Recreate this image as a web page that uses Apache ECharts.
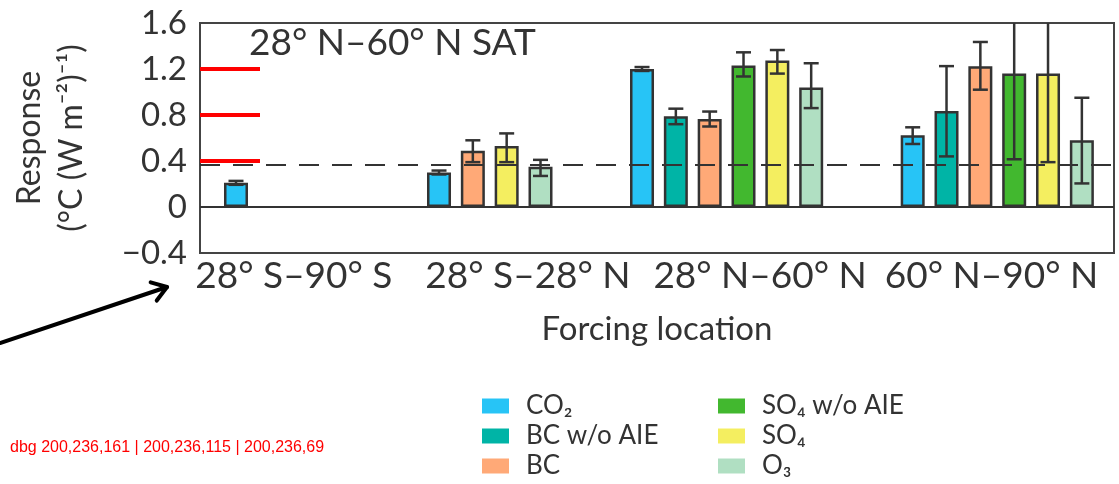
<!DOCTYPE html>
<html>
<head>
<meta charset="utf-8">
<title>Response by forcing location</title>
<script src="https://cdn.jsdelivr.net/npm/echarts@6/dist/echarts.min.js"></script>
<style>
  html, body { margin: 0; padding: 0; background: #fff; }
  #chart { width: 1119px; height: 484px; }
</style>
</head>
<body>
<div id="chart"></div>
<script>
// forcing regions (x groups) and forcing agents (bars)
const regions = ['28° S–90° S', '28° S–28° N', '28° N–60° N', '60° N–90° N']
const species = ['CO₂', 'BC w/o AIE', 'BC', 'SO₄ w/o AIE', 'SO₄', 'O₃']

// response per region, null = not simulated
const co2 = [0.21, 0.30, 1.20, 0.625]
const bcNoAie = [null, null, 0.79, 0.835]
const bc = [null, 0.49, 0.765, 1.225]
const so4NoAie = [null, null, 1.23, 1.16]
const so4 = [null, 0.53, 1.275, 1.16]
const o3 = [null, 0.35, 1.04, 0.58]

// error bar ends (low / high)
const co2Low = [0.193, 0.283, 1.183, 0.548]
const co2High = [0.227, 0.317, 1.217, 0.693]
const bcNoAieLow = [null, null, 0.72, 0.44]
const bcNoAieHigh = [null, null, 0.855, 1.225]
const bcLow = [null, 0.39, 0.70, 1.02]
const bcHigh = [null, 0.58, 0.83, 1.435]
const so4NoAieLow = [null, null, 1.135, 0.415]
const so4NoAieHigh = [null, null, 1.345, 1.9]
const so4Low = [null, 0.39, 1.16, 0.39]
const so4High = [null, 0.64, 1.365, 1.9]
const o3Low = [null, 0.27, 0.86, 0.205]
const o3High = [null, 0.41, 1.25, 0.95]

// dashed reference level
const refLevel = 0.37

// y ticks
const yMin = -0.4
const yMax = 1.6
const yStep = 0.4
const yTicks = [0.4, 0.8, 1.2]

// layout: first bar slot of each group, label position in slot units
const groupStart = [0, 6, 12, 20]
const labelPos = [1.71, 8.63, 15.49, 22.33]
const slotMin = -1.064
const slotMax = 25.95

const colors = ['#27c4f6', '#00b4a6', '#ffa977', '#42b82f', '#f4ee60', '#b0dfc2']
const font = 'Lato, "DejaVu Sans", sans-serif'
const ink = '#333'

const values = [co2, bcNoAie, bc, so4NoAie, so4, o3]
const lows = [co2Low, bcNoAieLow, bcLow, so4NoAieLow, so4Low, o3Low]
const highs = [co2High, bcNoAieHigh, bcHigh, so4NoAieHigh, so4High, o3High]

// pack the bars of each region next to each other
const barData = species.map(() => [])
const errData = []
regions.forEach((r, g) => {
  let slot = groupStart[g]
  species.forEach((s, k) => {
    if (values[k][g] == null) return
    barData[k].push([slot, values[k][g]])
    errData.push([slot, lows[k][g], highs[k][g]])
    slot++
  })
})

// arrow pointing at the chart (annotation)
const arrowFrom = [0, 343]
const arrowTo = [167, 287]
const ang = Math.atan2(arrowTo[1] - arrowFrom[1], arrowTo[0] - arrowFrom[0])
const headLen = 17
const head = [-0.6, 0.6].map(d => [
  arrowTo[0] - headLen * Math.cos(ang + d),
  arrowTo[1] - headLen * Math.sin(ang + d)
])

const chart = echarts.init(document.getElementById('chart'))

const legendBase = {
  orient: 'vertical',
  top: 388,
  icon: 'rect',
  itemWidth: 27,
  itemHeight: 15,
  itemGap: 4,
  selectedMode: false,
  itemStyle: { borderWidth: 0 },
  textStyle: { fontFamily: font, fontSize: 26, color: ink, padding: [0, 0, 0, 12] }
}

let dbg = []

chart.setOption({
  animation: false,
  backgroundColor: '#fff',
  title: {
    text: '28° N–60° N SAT',
    left: 244,
    top: 20,
    textStyle: { fontFamily: font, fontSize: 37, fontWeight: 'normal', color: ink }
  },
  legend: [
    Object.assign({}, legendBase, { left: 477, data: species.slice(0, 3) }),
    Object.assign({}, legendBase, { left: 713, data: species.slice(3) })
  ],
  grid: {
    left: 200,
    right: 5,
    top: 23,
    bottom: 231,
    show: true,
    borderColor: '#444',
    borderWidth: 2
  },
  xAxis: {
    type: 'value',
    min: slotMin,
    max: slotMax,
    name: 'Forcing location',
    nameLocation: 'middle',
    nameGap: 60,
    nameTextStyle: { fontFamily: font, fontSize: 33, color: ink },
    axisLine: { show: false, onZero: false },
    axisTick: { show: false },
    splitLine: { show: false },
    axisLabel: {
      customValues: labelPos,
      margin: 5,
      fontFamily: font,
      fontSize: 37,
      color: ink,
      formatter: v => regions[labelPos.indexOf(v)]
    }
  },
  yAxis: {
    type: 'value',
    min: yMin,
    max: yMax,
    interval: yStep,
    name: 'Response\n(°C (W m⁻²)⁻¹)',
    nameLocation: 'middle',
    nameGap: 107,
    nameTextStyle: { fontFamily: font, fontSize: 32, color: ink, lineHeight: 42 },
    axisLine: { show: false, onZero: false },
    splitLine: { show: false },
    axisTick: { show: false },
    axisLabel: {
      margin: 13,
      fontFamily: font,
      fontSize: 33,
      color: ink,
      formatter: v => (v === 0 ? '0' : v.toFixed(1).replace('-', '−'))
    }
  },
  series: [
    // zero line and dashed reference level, behind the bars
    {
      type: 'line',
      data: [],
      z: 1,
      silent: true,
      markLine: {
        symbol: 'none',
        silent: true,
        label: { show: false },
        lineStyle: { color: ink, width: 2 },
        data: [
          { yAxis: 0, lineStyle: { type: 'solid', color: ink, width: 2 } },
          { yAxis: refLevel, lineStyle: { type: [20, 13], color: ink, width: 2 } }
        ]
      }
    },
    // inner ticks on the left frame
    {
      type: 'custom',
      data: yTicks.map(v => [0, v]),
      z: 5,
      silent: true,
      encode: { x: 0, y: 1 },
      renderItem: (params, api) => {
        const p = api.coord([0, api.value(1)])
        const left = params.coordSys.x
        dbg.push([left, p[0], p[1]].map(n => Math.round(n)).join(','))
        return {
          type: 'line',
          shape: { x1: left, y1: p[1], x2: left + 60, y2: p[1] },
          style: { stroke: '#f00', lineWidth: 4 }
        }
      }
    },
    ...species.map((name, k) => ({
      name,
      type: 'bar',
      data: barData[k],
      barWidth: 24,
      barGap: '-100%',
      z: 3,
      itemStyle: { color: colors[k], borderColor: ink, borderWidth: 2.5 }
    })),
    // error bars
    {
      type: 'custom',
      data: errData,
      z: 4,
      clip: true,
      encode: { x: 0, y: [1, 2] },
      renderItem: (params, api) => {
        const x = api.value(0)
        const top = api.coord([x, api.value(2)])
        const bot = api.coord([x, api.value(1)])
        const half = 7.5
        const style = { stroke: ink, lineWidth: 2.5 }
        return {
          type: 'group',
          children: [
            { type: 'line', shape: { x1: top[0], y1: top[1], x2: bot[0], y2: bot[1] }, style },
            { type: 'line', shape: { x1: top[0] - half, y1: top[1], x2: top[0] + half, y2: top[1] }, style },
            { type: 'line', shape: { x1: bot[0] - half, y1: bot[1], x2: bot[0] + half, y2: bot[1] }, style }
          ]
        }
      }
    }
  ]
})

chart.setOption({
  graphic: [
    {
      type: 'polyline',
      shape: { points: [arrowFrom, arrowTo] },
      style: { stroke: '#000', lineWidth: 4, lineCap: 'round' }
    },
    {
      type: 'polyline',
      shape: { points: [head[0], arrowTo, head[1]] },
      style: { stroke: '#000', lineWidth: 4, lineCap: 'round', lineJoin: 'round', fill: null }
    },
    {
      type: 'text',
      left: 10,
      top: 440,
      z: 200,
      style: { text: 'dbg ' + dbg.join(' | '), fill: '#f00', font: '16px sans-serif' }
    }
  ]
})
</script>
</body>
</html>
